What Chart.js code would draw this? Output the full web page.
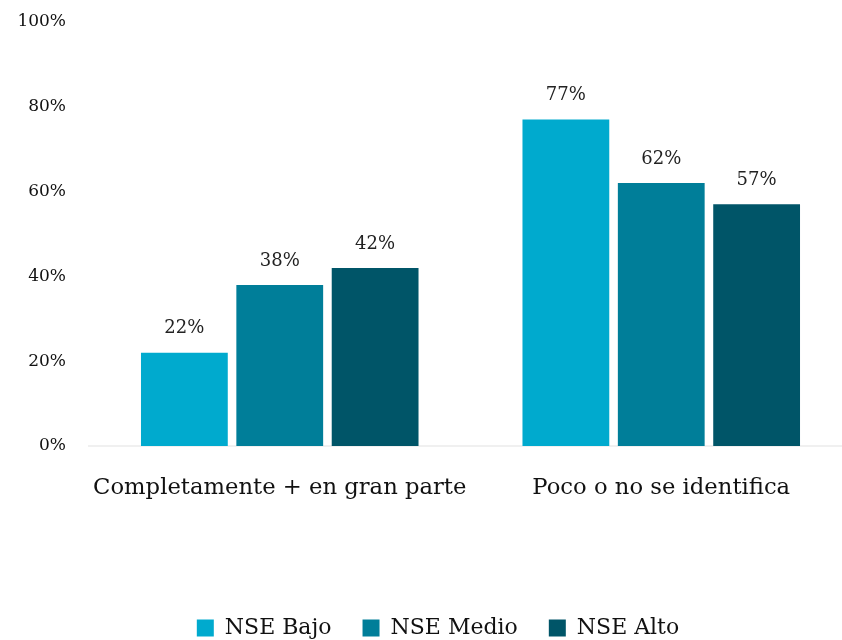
<!DOCTYPE html>
<html>
<head>
<meta charset="utf-8">
<script src="https://cdn.jsdelivr.net/npm/chart.js@4/dist/chart.umd.min.js"></script>
<style>
  html, body { margin: 0; padding: 0; background: #fff; overflow: hidden; }
  #wrap { width: 862px; height: 640px; }
</style>
</head>
<body>
<div id="wrap"><canvas id="chart" width="862" height="640"></canvas></div>
<script>
// Chart data
const categories = ["Completamente + en gran parte", "Poco o no se identifica"];
const seriesNames = ["NSE Bajo", "NSE Medio", "NSE Alto"];
const nseBajo = [22, 77];
const nseMedio = [38, 62];
const nseAlto = [42, 57];
const yTicks = [0, 20, 40, 60, 80, 100];

const colors = ["#00aace", "#007e99", "#005568"];
const FONT = "'DejaVu Serif', 'Liberation Serif', serif";

// Draw the percentage above each bar
const valueLabels = {
  id: "valueLabels",
  afterDatasetsDraw(chart) {
    const ctx = chart.ctx;
    ctx.save();
    ctx.font = "18px " + FONT;
    ctx.fillStyle = "#222";
    ctx.textAlign = "center";
    ctx.textBaseline = "bottom";
    chart.data.datasets.forEach((ds, i) => {
      chart.getDatasetMeta(i).data.forEach((bar, j) => {
        ctx.fillText(ds.data[j] + "%", bar.x, bar.y - 15);
      });
    });
    ctx.restore();
  },
};

// Nudge the legend a bit to the right, like the original
const legendShift = {
  id: "legendShift",
  afterLayout(chart) {
    if (chart.legend) {
      chart.legend.left += 12;
      chart.legend.right += 12;
    }
  },
};

const ctx = document.getElementById("chart").getContext("2d");

new Chart(ctx, {
  type: "bar",
  data: {
    labels: categories,
    datasets: [
      { label: seriesNames[0], data: nseBajo, backgroundColor: colors[0] },
      { label: seriesNames[1], data: nseMedio, backgroundColor: colors[1] },
      { label: seriesNames[2], data: nseAlto, backgroundColor: colors[2] },
    ],
  },
  options: {
    responsive: false,
    animation: false,
    layout: { padding: { top: 22, bottom: -9, right: 10 } },
    categoryPercentage: 0.75,
    barPercentage: 0.91,
    plugins: {
      legend: {
        position: "bottom",
        labels: {
          font: { family: FONT, size: 22 },
          color: "#111",
          boxWidth: 17,
          boxHeight: 17,
          padding: 31,
        },
      },
      tooltip: { enabled: false },
    },
    scales: {
      x: {
        grid: { display: false },
        border: { color: "#f0f0f0", width: 2 },
        ticks: {
          font: { family: FONT, size: 22.7 },
          color: "#111",
          padding: 20,
          maxRotation: 0,
        },
        afterFit(scale) { scale.height = 140; },
      },
      y: {
        min: 0,
        max: 100,
        afterBuildTicks(scale) { scale.ticks = yTicks.map(v => ({ value: v })); },
        grid: { display: false },
        border: { display: false },
        ticks: {
          font: { family: FONT, size: 17 },
          color: "#111",
          padding: 15,
          callback: v => v + "%",
        },
        afterFit(scale) {
          scale.width = 89;
          scale.paddingTop = 0;
          scale.paddingBottom = 0;
        },
      },
    },
  },
  plugins: [valueLabels, legendShift],
});
</script>
</body>
</html>
